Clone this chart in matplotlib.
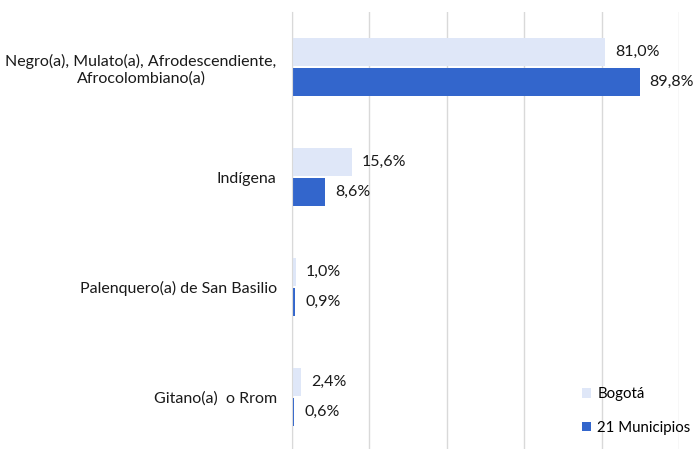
"""Autorreconocimiento étnico: Bogotá frente a 21 municipios."""

import matplotlib.pyplot as plt
import numpy as np

CATEGORIES = [
    "Negro(a), Mulato(a), Afrodescendiente,\nAfrocolombiano(a)",
    "Indígena",
    "Palenquero(a) de San Basilio",
    "Gitano(a)  o Rrom",
]
BOGOTA = [81.0, 15.6, 1.0, 2.4]
MUNICIPIOS = [89.8, 8.6, 0.9, 0.6]
SERIES_NAMES = ["Bogotá", "21 Municipios"]

COLOR_BOGOTA = "#dfe7f8"
COLOR_MUNI = "#3366cc"
GRID = "#d9d9d9"
TEXT = "#1a1a1a"


def pct(value: float) -> str:
    return f"{value:.1f}%".replace(".", ",")


def main() -> None:
    plt.rcParams["font.family"] = ["Lato", "DejaVu Sans"]

    fig = plt.figure(figsize=(6.93, 4.49), dpi=100)
    ax = fig.add_axes([292 / 693, -3 / 449, 387 / 693, 440 / 449])

    y = np.arange(len(CATEGORIES))
    h = 0.26
    gap = 0.005
    ax.barh(y - h / 2 - gap, BOGOTA, height=h, color=COLOR_BOGOTA, label=SERIES_NAMES[0])
    ax.barh(y + h / 2 + gap, MUNICIPIOS, height=h, color=COLOR_MUNI, label=SERIES_NAMES[1])

    for yi, b, m in zip(y, BOGOTA, MUNICIPIOS):
        ax.annotate(pct(b), (b, yi - h / 2 - gap), xytext=(7, 0), textcoords="offset points",
                    va="center", ha="left", fontsize=11.5, color=TEXT)
        ax.annotate(pct(m), (m, yi + h / 2 + gap), xytext=(7, 0), textcoords="offset points",
                    va="center", ha="left", fontsize=11.5, color=TEXT)

    ax.set_xlim(0, 100)
    ax.set_ylim(len(CATEGORIES) - 0.5, -0.5)
    ax.set_xticks(np.arange(0, 101, 20))
    ax.set_xticklabels([])
    ax.tick_params(axis="x", length=0)
    ax.set_yticks(y)
    ax.set_yticklabels(CATEGORIES, fontsize=11.5, color=TEXT)
    for lbl in ax.get_yticklabels():
        lbl.set_multialignment("center")
    ax.tick_params(axis="y", length=0, pad=11)
    ax.xaxis.grid(True, color=GRID, linewidth=1.0)
    ax.set_axisbelow(True)
    for side in ("top", "right", "bottom"):
        ax.spines[side].set_visible(False)
    ax.spines["left"].set_color(GRID)

    ax.legend(loc="center left", bbox_to_anchor=(582 / 693, 1 - 411 / 449),
              bbox_transform=fig.transFigure, frameon=False, fontsize=10.8,
              borderpad=0, borderaxespad=0,
              handlelength=0.62, handleheight=0.62, labelspacing=1.3, handletextpad=0.4)

    fig.savefig("out.png", dpi=100, facecolor="white")


if __name__ == "__main__":
    main()
